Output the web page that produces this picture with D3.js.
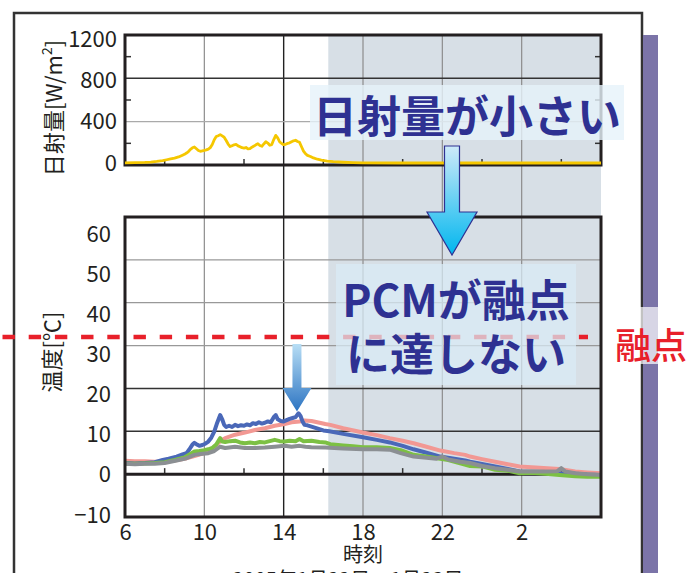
<!DOCTYPE html>
<html><head><meta charset="utf-8">
<script src="https://cdn.jsdelivr.net/npm/d3@7"></script>
<style>body{margin:0;background:#fff;} text{font-family:"Noto Sans CJK JP","Noto Sans",sans-serif;}</style>
</head><body>
<script>
// ---------- data ----------
const hourTicks = [6, 10, 14, 18, 22, 26];
const hourMinor = [8, 12, 16, 20, 24, 28];
const sunTicks = [0, 400, 800, 1200];
const sunMinor = [200, 600, 1000];
const tempTicks = [-10, 0, 10, 20, 30, 40, 50, 60];
const meltingPoint = 32;
const nightStart = 16.25;

// solar radiation [W/m2]  [hour, value]
const solar = [[6,2],[6.5,3],[7,5],[7.3,8],[7.6,14],[7.9,22],[8.1,30],[8.3,38],[8.5,45],[8.7,56],[8.9,72],[9.0,80],[9.1,92],[9.2,106],[9.3,126],[9.4,140],[9.5,148],[9.6,132],[9.7,116],[9.8,108],[9.9,112],[10.0,116],[10.1,121],[10.2,128],[10.3,142],[10.4,170],[10.5,215],[10.6,244],[10.7,252],[10.8,262],[10.9,250],[11.0,238],[11.1,208],[11.2,175],[11.3,152],[11.4,160],[11.5,168],[11.6,171],[11.7,158],[11.8,150],[11.9,141],[12.0,138],[12.1,143],[12.2,130],[12.3,133],[12.4,146],[12.5,156],[12.6,168],[12.7,178],[12.8,161],[12.9,154],[13.0,176],[13.1,196],[13.2,184],[13.3,164],[13.4,170],[13.5,216],[13.6,255],[13.7,232],[13.8,194],[13.9,180],[14.0,169],[14.1,173],[14.2,181],[14.3,186],[14.4,196],[14.5,205],[14.6,210],[14.7,199],[14.8,191],[14.9,150],[15.0,110],[15.1,86],[15.2,70],[15.35,60],[15.5,47],[15.7,35],[15.9,26],[16.2,18],[16.5,12],[17,7],[17.5,4],[18,2],[20,0],[24,0],[30,0]];

// temperatures [°C]  [hour, value]
const tempPink = [[6,3.1],[6.5,3.0],[7,3.0],[7.5,2.9],[8,2.9],[8.5,3.2],[9,3.6],[9.5,4.2],[10,4.9],[10.3,5.6],[10.6,6.8],[10.85,7.9],[11.05,8.4],[11.55,9.2],[12.05,9.7],[12.55,10.3],[13.05,10.7],[13.55,11.3],[14.05,11.7],[14.4,12.1],[14.8,12.3],[15.05,12.5],[15.4,12.4],[16.1,11.7],[16.35,11.5],[17,10.7],[18,9.7],[18.7,9.1],[19.35,8.4],[20,7.8],[20.55,7.2],[21.2,6.4],[21.9,5.5],[22.6,4.9],[23.15,4.5],[23.4,4.1],[24,3.5],[24.66,2.9],[25.3,2.3],[25.9,1.8],[26.9,1.5],[27.9,1.2],[28.7,0.6],[29.3,0.4],[30,0.2]];
const tempBlue = [[6,2.6],[6.5,2.5],[7,2.6],[7.5,2.8],[7.9,3.3],[8.2,3.6],[8.6,4.1],[8.9,4.6],[9.1,4.9],[9.25,5.8],[9.4,6.9],[9.5,7.3],[9.6,7.0],[9.75,6.6],[9.9,6.8],[10.05,7.1],[10.2,7.6],[10.35,8.5],[10.5,9.9],[10.65,12.0],[10.8,13.8],[10.9,12.8],[11.0,11.5],[11.1,11.0],[11.25,11.3],[11.4,11.0],[11.55,11.5],[11.7,11.2],[11.85,11.4],[12.0,11.3],[12.15,11.6],[12.3,11.4],[12.45,11.9],[12.6,11.7],[12.75,12.1],[12.9,11.8],[13.05,12.0],[13.2,12.3],[13.35,12.1],[13.5,13.3],[13.6,13.8],[13.7,12.8],[13.85,12.4],[14.0,12.3],[14.15,12.6],[14.3,12.9],[14.45,13.1],[14.6,13.3],[14.75,14.2],[14.85,13.6],[14.95,12.3],[15.05,11.5],[15.2,11.4],[15.4,11.1],[15.6,10.8],[15.8,10.5],[16.0,10.2],[16.3,10.0],[17,9.4],[18,8.6],[18.7,8.0],[19.35,7.4],[20,6.6],[20.55,5.8],[21.2,5.0],[21.9,4.1],[22.6,3.6],[23.15,3.2],[23.4,2.9],[24,2.4],[24.66,1.8],[25.3,1.2],[25.9,0.6],[26.5,0.5],[27.2,0.4],[27.9,0.2],[28.7,0.1],[29.3,-0.1],[30,-0.2]];
const tempGreen = [[6,2.5],[6.5,2.4],[7,2.5],[7.5,2.6],[8,2.8],[8.5,3.3],[9,3.9],[9.25,4.6],[9.5,5.3],[9.75,5.4],[10,5.6],[10.2,5.8],[10.4,6.1],[10.6,6.9],[10.8,8.4],[10.9,7.6],[11.05,7.5],[11.3,7.7],[11.55,7.8],[11.8,7.4],[12.05,7.2],[12.3,7.4],[12.55,7.2],[12.8,7.5],[13.05,7.4],[13.3,7.7],[13.55,8.0],[13.8,7.7],[14.05,7.6],[14.3,7.8],[14.6,7.7],[14.8,8.2],[15.0,7.7],[15.4,7.8],[15.8,7.5],[16.1,7.4],[16.35,7.0],[17,6.7],[17.5,6.5],[18,6.3],[18.7,6.3],[19.35,6.1],[19.9,5.6],[20.55,4.5],[21.2,4.1],[21.9,3.6],[22.3,3.3],[22.9,2.5],[23.4,1.9],[24,1.8],[24.66,1.0],[25.3,0.8],[25.9,0.2],[26.5,0.3],[27.2,0.1],[27.9,-0.2],[28.7,-0.5],[29.3,-0.6],[30,-0.6]];
const tempGray = [[6,2.4],[6.5,2.3],[7,2.4],[7.5,2.4],[8,2.6],[8.6,3.2],[9.1,3.7],[9.5,4.5],[9.8,4.7],[10.2,4.9],[10.5,5.4],[10.8,6.4],[11.05,6.1],[11.55,6.4],[12.05,6.1],[12.55,6.1],[13.05,6.2],[13.55,6.4],[14.05,6.6],[14.4,6.4],[14.8,6.6],[15.1,6.4],[15.4,6.3],[16.1,6.2],[17,6.0],[18,5.8],[18.7,5.8],[19.35,5.7],[19.9,4.9],[20.55,4.1],[21.2,3.8],[21.7,3.6],[22.0,4.1],[22.3,3.4],[22.9,2.9],[23.4,2.6],[24,1.9],[24.66,1.4],[25.3,1.0],[25.9,0.6],[26.5,0.7],[27.2,0.6],[27.8,0.7],[28.0,1.4],[28.2,0.6],[28.7,0.2],[29.3,0.0],[30,-0.2]];

// ---------- layout ----------
const W = 691, H = 573;
const L = 125, R = 601;
const sunTop = 35, sunBot = 165, tTop = 217, tBot = 517;

const x = d3.scaleLinear().domain([6, 30]).range([L, R]);
const ySun = d3.scaleLinear().domain([0, 1200]).range([sunBot, sunTop]);
const yT = d3.scaleLinear().domain([-10, 60]).range([tBot, tTop]);
// label placement scales (labels in the original are slightly offset from their grid lines)
const ySunLab = d3.scaleLinear().domain([0, 1200]).range([163, 39]);
const yTLab = d3.scaleLinear().domain([-10, 60]).range([515, 234]);

const svg = d3.select("body").append("svg").attr("width", W).attr("height", H);
const defs = svg.append("defs");
function vgrad(id, c1, c2) {
  const g = defs.append("linearGradient").attr("id", id).attr("x1", 0).attr("y1", 0).attr("x2", 0).attr("y2", 1);
  g.append("stop").attr("offset", "0%").attr("stop-color", c1);
  g.append("stop").attr("offset", "100%").attr("stop-color", c2);
}
vgrad("arrowA", "#cdeaf9", "#00b6ee");
vgrad("arrowB", "#b8def5", "#2c74c2");

svg.append("rect").attr("width", W).attr("height", H).attr("fill", "#fff");

// outer frame and purple bar
svg.append("rect").attr("x", 14).attr("y", 13).attr("width", 628).attr("height", 620)
  .attr("fill", "none").attr("stroke", "#333").attr("stroke-width", 2.5);
svg.append("rect").attr("x", 643).attr("y", 35).attr("width", 15).attr("height", 560).attr("fill", "#7b74a8");

// night shading
svg.append("rect").attr("x", x(nightStart)).attr("y", sunTop).attr("width", x(30) - x(nightStart))
  .attr("height", tBot - sunTop).attr("fill", "#d7dfe6");

// vertical grid lines (through both panels)
svg.append("g").selectAll("line").data(hourTicks.filter(h => h > 6)).join("line")
  .attr("x1", d => x(d)).attr("x2", d => x(d)).attr("y1", sunTop).attr("y2", tBot)
  .attr("stroke", d => d === 14 ? "#222" : "#8c8c8c").attr("stroke-width", d => d === 14 ? 1.4 : 1.2);

// horizontal grid
const darkGrid = new Set([800, 10, 20]);
svg.append("g").selectAll("line").data(sunTicks.filter(v => v > 0 && v < 1200)).join("line")
  .attr("x1", L).attr("x2", R).attr("y1", d => ySun(d)).attr("y2", d => ySun(d))
  .attr("stroke", d => darkGrid.has(d) ? "#333" : "#aaa").attr("stroke-width", d => darkGrid.has(d) ? 1.5 : 1.2);
svg.append("g").selectAll("line").data(tempTicks.filter(v => v > 0 && v < 60)).join("line")
  .attr("x1", L).attr("x2", R).attr("y1", d => yT(d)).attr("y2", d => yT(d))
  .attr("stroke", d => darkGrid.has(d) ? "#333" : "#999").attr("stroke-width", d => darkGrid.has(d) ? 1.5 : 1.2);

// minor ticks
svg.append("g").selectAll("line").data(sunMinor.flatMap(v => [[L, v, 1], [R, v, -1]])).join("line")
  .attr("x1", d => d[0]).attr("x2", d => d[0] + d[2] * 6).attr("y1", d => ySun(d[1])).attr("y2", d => ySun(d[1]))
  .attr("stroke", "#333").attr("stroke-width", 1.5);
svg.append("g").selectAll("line").data(hourMinor.flatMap(h => [[h, ySun(0)], [h, yT(0)]])).join("line")
  .attr("x1", d => x(d[0])).attr("x2", d => x(d[0])).attr("y1", d => d[1]).attr("y2", d => d[1] - 6)
  .attr("stroke", "#333").attr("stroke-width", 1.5);

// zero line of temperature panel
svg.append("line").attr("x1", L).attr("x2", R).attr("y1", yT(0)).attr("y2", yT(0))
  .attr("stroke", "#231f20").attr("stroke-width", 3);

// series
const lineT = d3.line().x(d => x(d[0])).y(d => yT(d[1]));
const series = [
  {data: tempPink, color: "#f29893"},
  {data: tempBlue, color: "#4a68b8"},
  {data: tempGreen, color: "#7cc043"},
  {data: tempGray, color: "#8b8f93"}
];
svg.append("g").selectAll("path").data(series).join("path")
  .attr("d", d => lineT(d.data)).attr("fill", "none").attr("stroke", d => d.color)
  .attr("stroke-width", 4).attr("stroke-linejoin", "round");

// panel borders
svg.append("rect").attr("x", L).attr("y", sunTop).attr("width", R - L).attr("height", sunBot - sunTop)
  .attr("fill", "none").attr("stroke", "#231f20").attr("stroke-width", 3);
svg.append("rect").attr("x", L).attr("y", tTop).attr("width", R - L).attr("height", tBot - tTop)
  .attr("fill", "none").attr("stroke", "#231f20").attr("stroke-width", 3);

// solar line
const lineS = d3.line().x(d => x(d[0])).y(d => ySun(d[1]));
svg.append("path").attr("d", lineS(solar)).attr("transform", "translate(0,-2)")
  .attr("fill", "none").attr("stroke", "#f5c700").attr("stroke-width", 2.8).attr("stroke-linejoin", "round");

// axes labels
const tickFont = g => g.selectAll("text").attr("font-size", 22).attr("fill", "#231f20")
  .attr("font-family", '"Noto Sans CJK JP",sans-serif');
svg.append("g").attr("transform", "translate(117,0)")
  .call(d3.axisLeft(ySunLab).tickValues(sunTicks).tickSize(0).tickPadding(0).tickFormat(d3.format("d")))
  .call(g => g.select(".domain").remove()).call(tickFont);
svg.append("g").attr("transform", "translate(111,0)")
  .call(d3.axisLeft(yTLab).tickValues(tempTicks).tickSize(0).tickPadding(0).tickFormat(d3.format("d")))
  .call(g => g.select(".domain").remove()).call(tickFont);
svg.append("g").attr("transform", "translate(0,524)")
  .call(d3.axisBottom(x).tickValues(hourTicks).tickSize(0).tickPadding(0).tickFormat(h => String(h % 24)))
  .call(g => g.select(".domain").remove()).call(tickFont);

svg.append("text").attr("transform", "translate(62,108) rotate(-90)").attr("text-anchor", "middle")
  .attr("font-size", 22).attr("fill", "#231f20")
  .call(t => { t.append("tspan").text("日射量[W/m"); t.append("tspan").attr("baseline-shift", "super").attr("font-size", 14).text("2"); t.append("tspan").text("]"); });
svg.append("text").attr("transform", "translate(60,352) rotate(-90)").attr("text-anchor", "middle")
  .attr("font-size", 22).attr("fill", "#231f20").text("温度[℃]");
svg.append("text").attr("x", (L + R) / 2).attr("y", 562).attr("text-anchor", "middle")
  .attr("font-size", 20).attr("fill", "#231f20").text("時刻");
svg.append("text").attr("x", 348).attr("y", 587).attr("text-anchor", "middle")
  .attr("font-size", 20).attr("fill", "#231f20").text("2005年1月22日～1月23日");

// melting point dashed line
svg.append("line").attr("x1", 2.5).attr("x2", 588).attr("y1", yT(meltingPoint)).attr("y2", yT(meltingPoint))
  .attr("stroke", "#e8202a").attr("stroke-width", 4.5).attr("stroke-dasharray", "12.4 13.8");

// arrow helper
function arrow(cx, yTop, yHead, yTip, shaftW, headW, fill, stroke) {
  const p = d3.path();
  p.moveTo(cx - shaftW / 2, yTop); p.lineTo(cx + shaftW / 2, yTop); p.lineTo(cx + shaftW / 2, yHead);
  p.lineTo(cx + headW / 2, yHead); p.lineTo(cx, yTip); p.lineTo(cx - headW / 2, yHead);
  p.lineTo(cx - shaftW / 2, yHead); p.closePath();
  svg.append("path").attr("d", p.toString()).attr("fill", fill)
    .attr("stroke", stroke || "none").attr("stroke-width", 1.2);
}

// annotation 1
svg.append("rect").attr("x", 310).attr("y", 85).attr("width", 314).attr("height", 55)
  .attr("fill", "#e6f2fa").attr("opacity", 0.8);
svg.append("text").attr("x", 467).attr("y", 114).attr("dominant-baseline", "central").attr("text-anchor", "middle")
  .attr("font-size", 44).attr("font-weight", 700).attr("fill", "#2e3192").text("日射量が小さい");
arrow(452, 146, 212, 255, 15, 50, "url(#arrowA)", "#2e3192");

// annotation 2
svg.append("rect").attr("x", 336).attr("y", 264).attr("width", 240).attr("height", 121)
  .attr("fill", "#d9ebf7").attr("opacity", 0.72);
svg.append("text").attr("x", 456).attr("y", 298).attr("dominant-baseline", "central").attr("text-anchor", "middle")
  .attr("font-size", 44).attr("font-weight", 700).attr("fill", "#2e3192").text("PCMが融点");
svg.append("text").attr("x", 456).attr("y", 352).attr("dominant-baseline", "central").attr("text-anchor", "middle")
  .attr("font-size", 44).attr("font-weight", 700).attr("fill", "#2e3192").text("に達しない");

// arrow 2 pointing at the blue peak
arrow(x(14.67), 344, 388, yT(14.6), 9, 29, "url(#arrowB)");

// melting point label
svg.append("rect").attr("x", 610).attr("y", 307).attr("width", 81).attr("height", 57)
  .attr("fill", "#fff").attr("opacity", 0.7);
svg.append("text").attr("x", 615).attr("y", 343).attr("dominant-baseline", "central")
  .attr("font-size", 36).attr("font-weight", 500).attr("fill", "#e8202a").text("融点");
</script>
</body></html>
